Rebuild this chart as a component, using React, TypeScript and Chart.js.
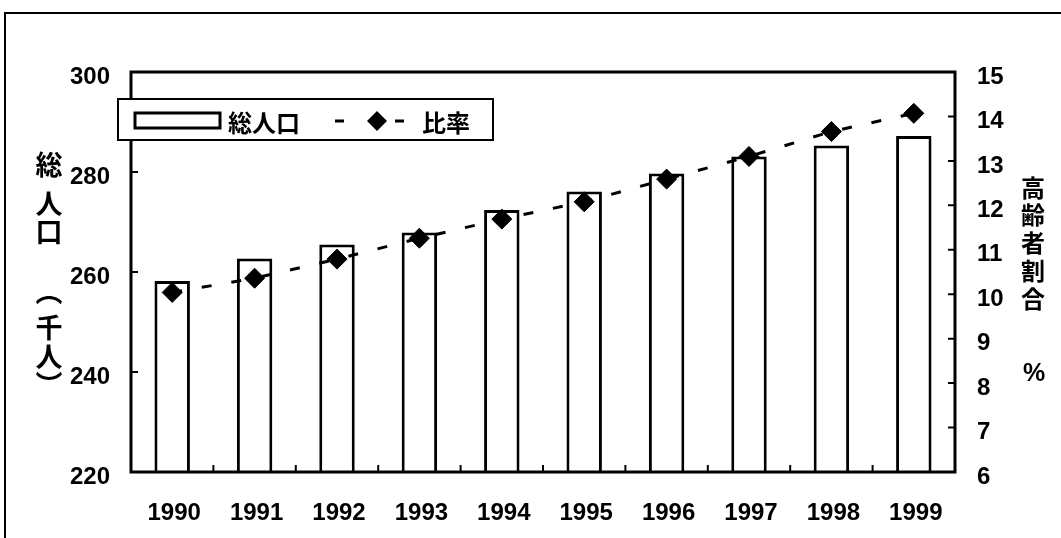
import React, { useEffect, useRef } from 'react';
import { Chart, registerables } from 'chart.js';

Chart.register(...registerables);

const years = ['1990', '1991', '1992', '1993', '1994', '1995', '1996', '1997', '1998', '1999'];
const totalPopulation = [258.2, 262.7, 265.5, 267.9, 272.4, 276.1, 279.7, 283.1, 285.3, 287.2];
const elderlyRatio = [10.04, 10.36, 10.79, 11.26, 11.69, 12.08, 12.59, 13.1, 13.66, 14.07];
const barLabel = '総人口';
const lineLabel = '比率';
const leftTitleChars = ['総', '人', '口'];
const leftUnitChars = ['︵', '千', '人', '︶'];
const rightTitleChars = ['高', '齢', '者', '割', '合'];
const rightUnit = '%';

const NUM_FONT = "'Liberation Sans', Arial, sans-serif";
const CJK_FONT = "'Noto Sans CJK JP', 'Noto Sans CJK SC', sans-serif";

const decorPlugin = {
  id: 'decor',
  beforeDraw(chart: any) {
    const ctx = chart.ctx;
    ctx.save();
    ctx.fillStyle = '#fff';
    ctx.fillRect(0, 0, chart.width, chart.height);
    ctx.strokeStyle = '#000';
    ctx.lineWidth = 2;
    ctx.beginPath();
    ctx.moveTo(5, chart.height);
    ctx.lineTo(5, 13);
    ctx.lineTo(chart.width, 13);
    ctx.stroke();
    ctx.restore();
  },
  afterDraw(chart: any) {
    const { ctx, chartArea: a, scales } = chart;
    ctx.save();
    ctx.strokeStyle = '#000';
    ctx.lineWidth = 3;
    ctx.strokeRect(a.left, a.top, a.right - a.left, a.bottom - a.top);

    // inward tick marks
    ctx.lineWidth = 2;
    ctx.beginPath();
    scales.y.ticks.forEach((t: any) => {
      const y = scales.y.getPixelForValue(t.value);
      ctx.moveTo(a.left, y);
      ctx.lineTo(a.left + 7, y);
    });
    scales.y1.ticks.forEach((t: any) => {
      const y = scales.y1.getPixelForValue(t.value);
      ctx.moveTo(a.right, y);
      ctx.lineTo(a.right - 7, y);
    });
    for (let i = 1; i < years.length; i++) {
      const x = (scales.x.getPixelForTick(i - 1) + scales.x.getPixelForTick(i)) / 2;
      ctx.moveTo(x, a.bottom);
      ctx.lineTo(x, a.bottom - 7);
    }
    ctx.stroke();

    // legend
    const ds0 = chart.data.datasets[1];
    const ds1 = chart.data.datasets[0];
    ctx.fillStyle = '#fff';
    ctx.fillRect(118, 99, 375, 41);
    ctx.lineWidth = 2;
    ctx.strokeRect(118, 99, 375, 41);
    ctx.lineWidth = 3;
    ctx.strokeRect(135, 113, 85, 15);
    ctx.fillStyle = '#000';
    ctx.font = `bold 24px ${CJK_FONT}`;
    ctx.textBaseline = 'middle';
    ctx.textAlign = 'left';
    ctx.fillText(ds0.label, 228, 123);
    ctx.beginPath();
    ctx.moveTo(335, 121);
    ctx.lineTo(344, 121);
    ctx.moveTo(395, 121);
    ctx.lineTo(404, 121);
    ctx.stroke();
    ctx.beginPath();
    ctx.moveTo(377, 111);
    ctx.lineTo(387, 121);
    ctx.lineTo(377, 131);
    ctx.lineTo(367, 121);
    ctx.closePath();
    ctx.fill();
    ctx.fillText(ds1.label, 422, 123);

    // axis titles (vertical)
    ctx.textAlign = 'center';
    ctx.font = `bold 27px ${CJK_FONT}`;
    const leftY = [165, 204, 232];
    leftTitleChars.forEach((c, i) => ctx.fillText(c, 49, leftY[i]));
    const unitY = [292, 328, 357, 385];
    leftUnitChars.forEach((c, i) => ctx.fillText(c, 49, unitY[i]));
    ctx.font = `bold 24px ${CJK_FONT}`;
    const rightY = [188, 215, 243, 271, 299];
    rightTitleChars.forEach((c, i) => ctx.fillText(c, 1033, rightY[i]));
    ctx.font = `bold 25px 'Liberation Sans', Arial, sans-serif`;
    ctx.fillText(rightUnit, 1034, 374);
    ctx.restore();
  },
};

export default function App() {
  const ref = useRef<HTMLCanvasElement>(null);
  useEffect(() => {
    if (!ref.current) return;
    const tickFont = { family: NUM_FONT, size: 24, weight: 'bold' as const };
    const chart = new Chart(ref.current, {
      type: 'bar',
      data: {
        labels: years,
        datasets: [
          {
            type: 'line' as const,
            label: lineLabel,
            data: elderlyRatio,
            yAxisID: 'y1',
            order: 0,
            borderColor: '#000',
            borderWidth: 3,
            borderDash: [10, 20],
            fill: false,
            tension: 0,
            pointStyle: 'rectRot',
            pointRadius: 10,
            pointBackgroundColor: '#000',
            pointBorderColor: '#000',
            pointBorderWidth: 1,
          },
          {
            type: 'bar' as const,
            label: barLabel,
            data: totalPopulation,
            yAxisID: 'y',
            order: 1,
            backgroundColor: '#fff',
            borderColor: '#000',
            borderWidth: 3,
            barPercentage: 0.43,
            categoryPercentage: 1,
          },
        ] as any,
      },
      options: {
        responsive: false,
        animation: false,
        events: [],
        layout: { padding: { top: 72, left: 0, right: 0, bottom: 0 } },
        plugins: {
          legend: { display: false },
          tooltip: { enabled: false },
          title: { display: false },
        },
        scales: {
          x: {
            grid: { display: false, drawTicks: false },
            border: { display: false },
            ticks: { color: '#000', font: tickFont, padding: 27, labelOffset: 2 },
            afterFit: (s: any) => { s.height = 66; },
          },
          y: {
            position: 'left',
            min: 220,
            max: 300,
            grid: { display: false, drawTicks: false },
            border: { display: false },
            ticks: { stepSize: 20, color: '#000', font: tickFont, padding: 21, labelOffset: 5 },
            afterFit: (s: any) => { s.width = 131; },
          },
          y1: {
            position: 'right',
            min: 6,
            max: 15,
            grid: { display: false, drawTicks: false },
            border: { display: false },
            ticks: { stepSize: 1, color: '#000', font: tickFont, padding: 22, labelOffset: 5 },
            afterFit: (s: any) => { s.width = 106; },
          },
        },
      } as any,
      plugins: [decorPlugin],
    });
    return () => chart.destroy();
  }, []);
  return (
    <div style={{ position: 'fixed', left: 0, top: 0, width: 1061, height: 538, background: '#fff' }}>
      <canvas ref={ref} width={1061} height={538} style={{ display: 'block' }} />
    </div>
  );
}
